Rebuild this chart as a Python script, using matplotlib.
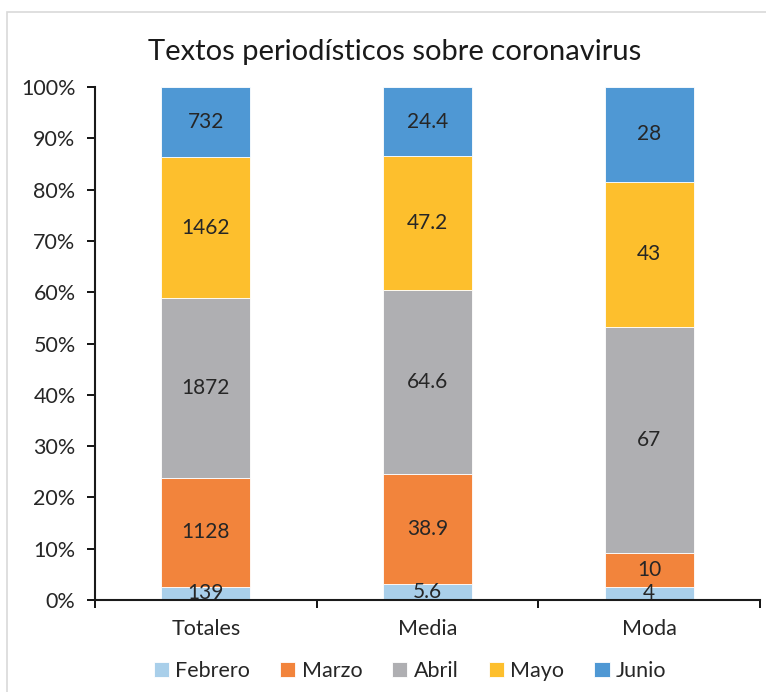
import matplotlib
matplotlib.use("Agg")
import matplotlib.pyplot as plt
from matplotlib.patches import Rectangle
from matplotlib.ticker import PercentFormatter
import numpy as np

plt.rcParams['font.family'] = ['Lato', 'DejaVu Sans']

categories = ["Totales", "Media", "Moda"]
series_names = ["Febrero", "Marzo", "Abril", "Mayo", "Junio"]
febrero = [139, 5.6, 4]
marzo = [1128, 38.9, 10]
abril = [1872, 64.6, 67]
mayo = [1462, 47.2, 43]
junio = [732, 24.4, 28]
labels_text = [
    ["139", "5.6", "4"],
    ["1128", "38.9", "10"],
    ["1872", "64.6", "67"],
    ["1462", "47.2", "43"],
    ["732", "24.4", "28"],
]
colors = ["#A9CFEA", "#F2843C", "#AFAFB2", "#FDBF2D", "#4F98D4"]

values = np.array([febrero, marzo, abril, mayo, junio], dtype=float)
totals = values.sum(axis=0)
pct = values / totals * 100

fig = plt.figure(figsize=(7.66, 6.92), dpi=100)
ax = fig.add_axes([95/766, 1 - 600/692, (760-95)/766, (600-87)/692])

# chart border
fig.patches.append(Rectangle((7/766, -0.1), 1.2, (692-12)/692 + 0.1,
                             transform=fig.transFigure, fill=False,
                             edgecolor="#D9D9D9", linewidth=1.2))

x = np.arange(len(categories))
bottom = np.zeros(len(categories))
for i, name in enumerate(series_names):
    ax.bar(x, pct[i], bottom=bottom, width=0.4, color=colors[i], label=name,
           edgecolor="white", linewidth=0.6)
    for j in range(len(categories)):
        ax.text(x[j], bottom[j] + pct[i][j] / 2, labels_text[i][j],
                ha="center", va="center", fontsize=15, color="#262626")
    bottom += pct[i]

ax.set_xlim(-0.5, 2.5)
ax.set_ylim(0, 100)
ax.set_yticks(np.arange(0, 101, 10))
ax.yaxis.set_major_formatter(PercentFormatter(decimals=0))
ax.set_xticks([-0.5, 0.5, 1.5, 2.5], minor=False)
ax.set_xticklabels([])
ax.set_xticks(x, minor=True)
ax.set_xticklabels(categories, minor=True)
ax.tick_params(axis="x", which="minor", length=0, pad=14, labelsize=15.5, labelcolor="#262626")
ax.tick_params(axis="x", which="major", length=6, width=1.3, direction="out")
ax.tick_params(axis="y", length=6, width=1.3, direction="out", labelsize=15.5, labelcolor="#262626", pad=8)

for s in ["top", "right"]:
    ax.spines[s].set_visible(False)
for s in ["left", "bottom"]:
    ax.spines[s].set_linewidth(1.5)
    ax.spines[s].set_color("#1a1a1a")

fig.text(395/766, 1 - 52/692, "Textos periodísticos sobre coronavirus",
         ha="center", va="center", fontsize=21, color="#1a1a1a")

handles, labs = ax.get_legend_handles_labels()
fig.legend(handles, labs, loc="center", bbox_to_anchor=(410/766, 1 - 671/692),
           ncol=5, frameon=False, fontsize=15.5, handlelength=0.7, handleheight=0.7,
           handletextpad=0.3, columnspacing=1.4, labelcolor="#262626")

fig.savefig("out.png", dpi=100)
